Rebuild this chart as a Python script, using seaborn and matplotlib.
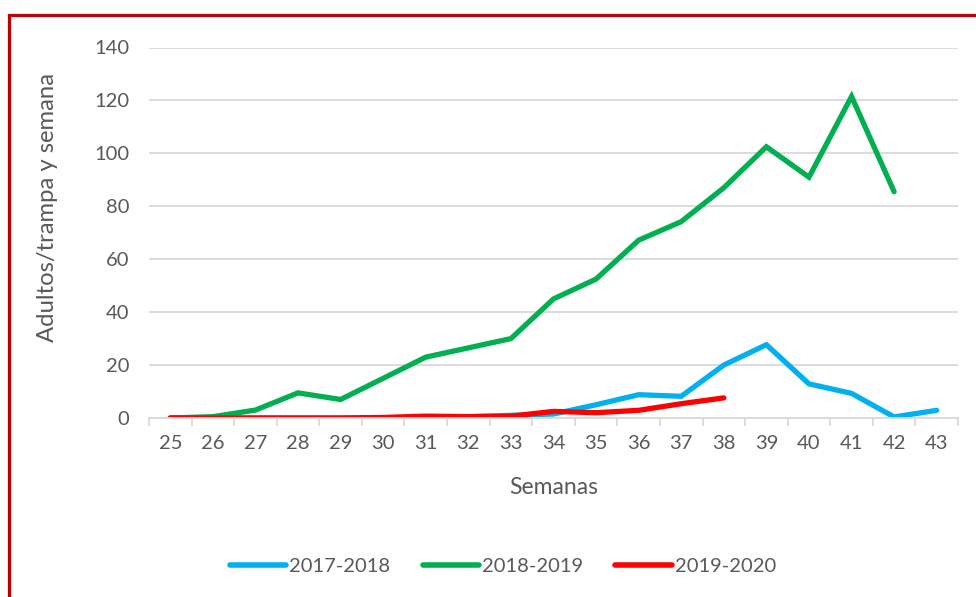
import matplotlib
matplotlib.use("Agg")
import matplotlib.pyplot as plt
import matplotlib.patches as mpatches
import seaborn as sns
import pandas as pd
import numpy as np

weeks = list(range(25, 44))
s2017 = [0, 0, 0, 0, 0, 0, 0, 0.5, 1, 1.5, 5, 8.8, 8.2, 20, 27.7, 12.9, 9.3, 0.4, 2.9]
s2018 = [0, 0.5, 3, 9.5, 7, 15, 23, 26.5, 30, 45, 52.5, 67.2, 74.2, 87, 102.5, 91, 121.5, 85.5, None]
s2019 = [0, 0, 0, 0, 0, 0.2, 0.7, 0.5, 0.7, 2.5, 2, 2.9, 5.4, 7.6, None, None, None, None, None]
series_names = ["2017-2018", "2018-2019", "2019-2020"]
colors = ["#00B0F0", "#00B050", "#FF0000"]

rows = []
for name, vals in zip(series_names, [s2017, s2018, s2019]):
    for w, v in zip(weeks, vals):
        if v is not None:
            rows.append({"Semana": w, "Valor": v, "Serie": name})
df = pd.DataFrame(rows)

sns.set_theme(style="white")
plt.rcParams["font.family"] = ["Lato", "DejaVu Sans"]

fig = plt.figure(figsize=(9.76, 5.97), dpi=100)
ax = fig.add_axes([149/976, 1-418/597, (958-149)/976, (418-47.5)/597])

sns.lineplot(data=df, x="Semana", y="Valor", hue="Serie", palette=colors,
             hue_order=series_names, linewidth=3.8, ax=ax, legend=True,
             solid_capstyle="round", solid_joinstyle="miter")

ax.set_xlim(24.5, 43.5)
ax.set_ylim(0, 140)
ax.set_yticks(np.arange(0, 141, 20))
ax.set_xticks(weeks)
ax.set_xticks(np.arange(24.5, 43.6, 1), minor=True)
ax.yaxis.grid(True, color="#D9D9D9", linewidth=1.3)
ax.set_axisbelow(True)
for s in ["top", "right", "left"]:
    ax.spines[s].set_visible(False)
ax.spines["bottom"].set_color("#D9D9D9")
ax.spines["bottom"].set_linewidth(1.3)
ax.tick_params(axis="x", which="major", length=0, pad=12, labelsize=14.5, labelcolor="#595959")
ax.tick_params(axis="x", which="minor", length=6, width=1.3, color="#D9D9D9", bottom=True)
ax.tick_params(axis="y", length=0, pad=14, labelsize=14.5, labelcolor="#595959")

ax.set_xlabel("Semanas", fontsize=16.5, color="#595959", labelpad=18)
ax.set_ylabel("Adultos/trampa y semana", fontsize=17.2, color="#595959")
ax.yaxis.set_label_coords(-0.113, 0.569)

leg = ax.legend(loc="upper center", bbox_to_anchor=(0.4376, -0.328), ncol=3, frameon=False,
                fontsize=14.5, handlelength=2.8, columnspacing=1.6, handletextpad=0.15)
for t in leg.get_texts():
    t.set_color("#595959")
for l in leg.get_lines():
    l.set_linewidth(4)

rect = mpatches.Rectangle((9/976, -0.1), 1.2, 1 - 15/597 + 0.1, transform=fig.transFigure,
                          fill=False, edgecolor="#C00000", linewidth=2.3, clip_on=False)
fig.patches.append(rect)

fig.savefig("out.png", dpi=100)
